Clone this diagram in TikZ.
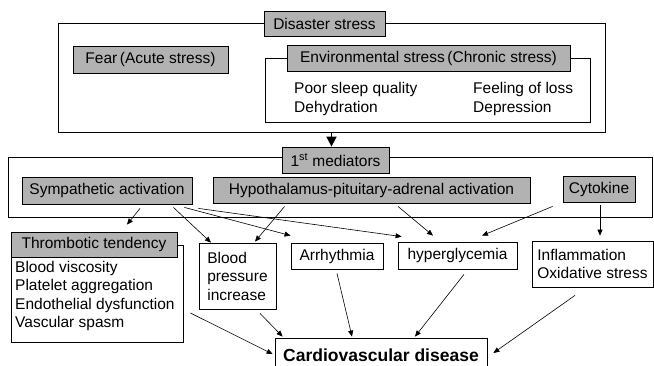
\documentclass[tikz,border=0pt]{standalone}
\usepackage{fontspec}
\setmainfont{Liberation Sans}
\usetikzlibrary{arrows.meta}
\tikzset{>={Triangle[length=6pt,width=5pt]}}
\tikzset{
    box/.style={draw,line width=0.8pt,inner sep=0pt},
    graybox/.style={box,fill=black!30},
    arr/.style={->,line width=0.6pt},
}

\begin{document}
\begin{tikzpicture}[x=1pt,y=-1pt,font=\fontsize{15.5}{18.5}\selectfont]
                    \useasboundingbox (0,0) rectangle (654,365);
                    \clip (0,0) rectangle (654,365);
                    \fill[white] (0,0) rectangle (654,365);
                    \node[box,minimum width=547pt,minimum height=109pt] (disbox) at (331.5,77.5) {};
                    \node[box,minimum width=325pt,minimum height=64pt] (envbox) at (427.5,90) {};
                    \node[graybox,minimum width=121pt,minimum height=25pt] (dis) at (324.5,23.5) {Disaster stress};
                    \node[graybox,minimum width=155pt,minimum height=27pt] (fear) at (150.5,59.5) {Fear\,(Acute stress)};
                    \node[graybox,minimum width=283pt,minimum height=26pt] (env) at (428.5,58) {Environmental stress\,(Chronic stress)};
                    \node[anchor=west,align=left,inner sep=0pt] (envl) at (294,99) {Poor sleep quality\\Dehydration};
                    \node[anchor=west,align=left,inner sep=0pt] (envr) at (473,99) {Feeling of loss\\Depression};
                    \node[box,minimum width=644pt,minimum height=60pt] (medbox) at (330,187) {};
                    \node[graybox,minimum width=107pt,minimum height=26pt] (medlbl) at (335.5,160) {1\textsuperscript{st} mediators};
                    \node[graybox,minimum width=170pt,minimum height=27pt] (sym) at (107,190.5) {Sympathetic activation};
                    \node[graybox,minimum width=317pt,minimum height=26pt] (hpa) at (371.5,190) {Hypothalamus-pituitary-adrenal activation};
                    \node[graybox,minimum width=72pt,minimum height=26pt] (cyto) at (599,189) {Cytokine};
                    \node[box,minimum width=172pt,minimum height=97pt] (thrbox) at (97,293.5) {};
                    \node[graybox,minimum width=166pt,minimum height=25pt] (thromb) at (94,244.5) {Thrombotic tendency};
                    \node[anchor=north west,align=left,inner sep=0pt] (thrtext) at (15,261) {Blood viscosity\\Platelet aggregation\\Endothelial dysfunction\\Vascular spasm};
                    \node[box,minimum width=77pt,minimum height=66pt,align=left] (bp) at (237.5,276) {Blood\\pressure\\increase};
                    \node[box,minimum width=92pt,minimum height=26pt] (arrh) at (337,256) {Arrhythmia};
                    \node[box,minimum width=119pt,minimum height=27pt] (hyp) at (457.5,255.5) {hyperglycemia};
                    \node[box,minimum width=121pt,minimum height=46pt,align=left] (inf) at (592.5,264) {Inflammation\\Oxidative stress};
                    \node[box,minimum width=212pt,minimum height=34pt,font=\fontsize{17.5}{20}\selectfont\bfseries] (cvd) at (381,355) {Cardiovascular disease};
                    \draw[->,line width=1.6pt,>={Triangle[length=10pt,width=10pt]}] (disbox.south) -- (disbox.south |- medlbl.north);
                    \draw[arr] ([shift={(33,4)}]sym.south) -- ([shift={(33,-7)}]thromb.north);
                    \draw[arr] ([shift={(-19,3)}]sym.south east) -- ([shift={(-26.5,0)}]bp.north);
                    \draw[arr] ([shift={(-8,3)}]sym.south east) -- ([shift={(0,-7)}]arrh.north west);
                    \draw[arr] ([shift={(6,4)}]sym.south east) -- ([shift={(4,-5)}]hyp.north west);
                    \draw[arr] ([shift={(72,3)}]hpa.south west) -- ([shift={(17.5,-1)}]bp.north);
                    \draw[arr] ([shift={(26.5,3)}]hpa.south) -- ([shift={(-24.5,-6)}]hyp.north);
                    \draw[arr] ([shift={(-10,4)}]cyto.south west) -- ([shift={(24.5,-6)}]hyp.north);
                    \draw[arr] ([shift={(1,3)}]cyto.south) -- ([shift={(7.5,-5)}]inf.north);
                    \draw[arr] ([shift={(7,19.5)}]thrbox.east) -- ([shift={(-2,-1)}]cvd.west);
                    \draw[arr] ([shift={(22.5,4)}]bp.south) -- ([shift={(8,-1)}]cvd.north west);
                    \draw[arr] ([shift={(0,4)}]arrh.south) -- ([shift={(-29,-1)}]cvd.north);
                    \draw[arr] ([shift={(6.5,5)}]hyp.south) -- ([shift={(34,-1)}]cvd.north);
                    \draw[arr] ([shift={(-17.5,8)}]inf.south) -- ([shift={(6,-2)}]cvd.east);
                \end{tikzpicture}
\end{document}
